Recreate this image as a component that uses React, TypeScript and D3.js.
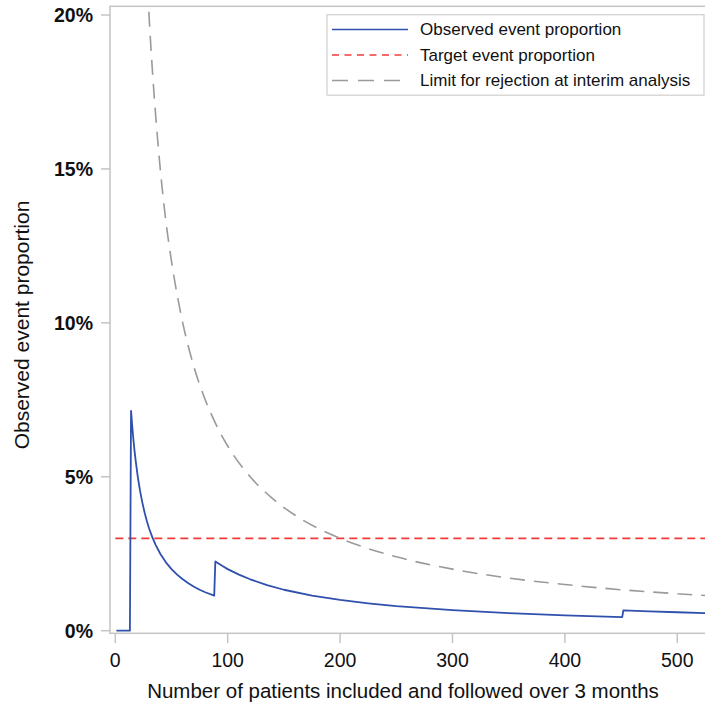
import React from "react";
import * as d3 from "d3";

// Observed event proportion (%)
const obsN = [1, 13, 14, 15, 16, 17, 18, 20, 22, 24, 26, 28, 30, 33, 36, 40, 45, 50, 55, 60, 65, 70, 75, 80, 88, 89, 95, 100, 110, 120, 135, 150, 175, 200, 225, 250, 300, 350, 400, 451, 452, 475, 500, 525];
const obsPct = [0, 0, 7.14, 6.67, 6.25, 5.88, 5.56, 5.0, 4.55, 4.17, 3.85, 3.57, 3.33, 3.03, 2.78, 2.5, 2.22, 2.0, 1.82, 1.67, 1.54, 1.43, 1.33, 1.25, 1.14, 2.25, 2.11, 2.0, 1.82, 1.67, 1.48, 1.33, 1.14, 1.0, 0.89, 0.8, 0.67, 0.57, 0.5, 0.44, 0.66, 0.63, 0.6, 0.57];

// Limit for rejection at interim analysis (%)
const limN = [25, 28, 30, 33, 36, 40, 45, 50, 60, 70, 80, 90, 100, 120, 140, 160, 180, 200, 250, 300, 350, 400, 450, 500, 530];
const limPct = [24, 21.4, 20, 18.2, 16.7, 15, 13.3, 12, 10, 8.57, 7.5, 6.67, 6.0, 5.0, 4.29, 3.75, 3.33, 3.0, 2.4, 2.0, 1.71, 1.5, 1.33, 1.2, 1.13];

// Target event proportion (%)
const targetN = [0, 530];
const targetPct = [3, 3];

const xTicks = [0, 100, 200, 300, 400, 500];
const yTicks = [0, 5, 10, 15, 20];

const legendLabels = [
  "Observed event proportion",
  "Target event proportion",
  "Limit for rejection at interim analysis",
];

const FONT = "'Liberation Sans', Arial, sans-serif";

export default function App() {
  const W = 705, H = 708;
  const frame = { left: 110, right: 720, top: 6.3, bottom: 633.3 };

  const x = d3.scaleLinear().domain([0, 500]).range([115.3, 677.3]);
  const y = d3.scaleLinear().domain([0, 20]).range([630.7, 15]);

  const line = d3
    .line<[number, number]>()
    .x((d) => x(d[0]))
    .y((d) => y(d[1]));
  const smooth = d3
    .line<[number, number]>()
    .x((d) => x(d[0]))
    .y((d) => y(d[1]))
    .curve(d3.curveMonotoneX);

  const obsData = obsN.map((n, i) => [n, obsPct[i]] as [number, number]);
  const limData = limN.map((n, i) => [n, limPct[i]] as [number, number]);
  const tgtData = targetN.map((n, i) => [n, targetPct[i]] as [number, number]);

  const frameColor = "#c4c4c4";
  const blue = "#2f50ad";
  const red = "#f23a3a";
  const gray = "#9a9a9a";
  const textColor = "#111";

  const legendStyles = [
    { stroke: blue, dash: undefined },
    { stroke: red, dash: "7 5.5" },
    { stroke: gray, dash: "16 10" },
  ];
  const legendRowsY = [29.5, 55, 80.5];

  return (
    <svg
      width={W}
      height={H}
      style={{ position: "absolute", left: 0, top: 0, background: "#fff" }}
      fontFamily={FONT}
    >
      <defs>
        <clipPath id="plotClip">
          <rect
            x={frame.left}
            y={frame.top}
            width={frame.right - frame.left}
            height={frame.bottom - frame.top}
          />
        </clipPath>
      </defs>

      {/* data lines */}
      <g clipPath="url(#plotClip)">
        <path
          d={line(tgtData) || ""}
          fill="none"
          stroke={red}
          strokeWidth={1.6}
          strokeDasharray="8 5"
        />
        <path
          d={smooth(limData) || ""}
          fill="none"
          stroke={gray}
          strokeWidth={1.6}
          strokeDasharray="15 9"
        />
        <path
          d={line(obsData) || ""}
          fill="none"
          stroke={blue}
          strokeWidth={1.8}
          strokeLinejoin="round"
        />
      </g>

      {/* frame */}
      <rect
        x={frame.left}
        y={frame.top}
        width={frame.right - frame.left}
        height={frame.bottom - frame.top}
        fill="none"
        stroke={frameColor}
        strokeWidth={1.5}
      />

      {/* y axis */}
      {yTicks.map((t) => (
        <g key={"y" + t}>
          <line x1={101} x2={frame.left} y1={y(t)} y2={y(t)} stroke={frameColor} strokeWidth={1.5} />
          <text
            x={93}
            y={y(t)}
            dy="0.36em"
            textAnchor="end"
            fontSize={19.5}
            fontWeight="bold"
            fill={textColor}
          >
            {t + "%"}
          </text>
        </g>
      ))}

      {/* x axis */}
      {xTicks.map((t) => (
        <g key={"x" + t}>
          <line x1={x(t)} x2={x(t)} y1={frame.bottom} y2={643} stroke={frameColor} strokeWidth={1.5} />
          <text x={x(t)} y={667} textAnchor="middle" fontSize={19.5} fill={textColor}>
            {t}
          </text>
        </g>
      ))}

      {/* axis titles */}
      <text x={403} y={698} textAnchor="middle" fontSize={20.5} fill={textColor}>
        Number of patients included and followed over 3 months
      </text>
      <text
        transform={`translate(29, 325) rotate(-90)`}
        textAnchor="middle"
        fontSize={21}
        fill={textColor}
      >
        Observed event proportion
      </text>

      {/* legend */}
      <rect x={327} y={14.7} width={377} height={80.5} fill="#fff" stroke="#cfcfcf" strokeWidth={1.2} />
      {legendLabels.map((lab, i) => (
        <g key={lab}>
          <line
            x1={332}
            x2={408}
            y1={legendRowsY[i]}
            y2={legendRowsY[i]}
            stroke={legendStyles[i].stroke}
            strokeWidth={1.6}
            strokeDasharray={legendStyles[i].dash}
          />
          <text x={420} y={legendRowsY[i]} dy="0.35em" fontSize={17} fill={textColor}>
            {lab}
          </text>
        </g>
      ))}
    </svg>
  );
}
